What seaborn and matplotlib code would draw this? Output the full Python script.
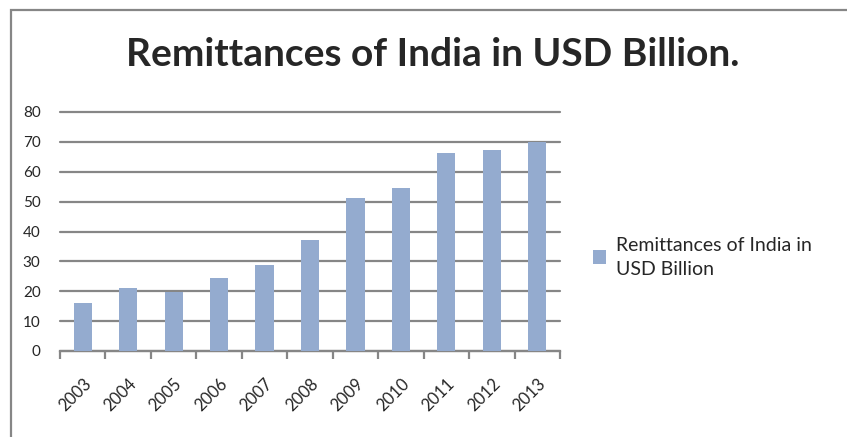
import numpy as np
import pandas as pd
import matplotlib.pyplot as plt
import seaborn as sns
from matplotlib.patches import Rectangle, Patch

# remittances of India, USD billion
years = ['2003', '2004', '2005', '2006', '2007', '2008',
         '2009', '2010', '2011', '2012', '2013']
remittances = [16.0, 21.1, 19.7, 24.4, 28.8, 37.1,
               51.2, 54.5, 66.2, 67.2, 69.8]
series_name = 'Remittances of India in USD Billion'

bar_color = '#94abcf'
grid_color = '#868686'

sns.set_style('white')
plt.rcParams['font.family'] = ['Lato', 'DejaVu Sans']

df = pd.DataFrame({'year': years, 'value': remittances})

fig = plt.figure(figsize=(8.47, 4.37), dpi=100)
ax = fig.add_axes([60 / 847, 1 - 351 / 437, 500 / 847, (351 - 112) / 437])

sns.barplot(data=df, x='year', y='value', color=bar_color, width=0.4,
            saturation=1, linewidth=0, ax=ax, zorder=3)

ax.set_ylim(0, 80)
ax.set_xlim(-0.5, len(years) - 0.5)
ax.set_yticks(np.arange(0, 81, 10))
ax.yaxis.grid(True, color=grid_color, linewidth=1.6)
for gl in ax.get_ygridlines():
    gl.set_clip_on(False)
ax.set_axisbelow(True)
ax.set_xlabel('')
ax.set_ylabel('')

for side in ['top', 'right', 'left']:
    ax.spines[side].set_visible(False)
ax.spines['bottom'].set_color(grid_color)
ax.spines['bottom'].set_linewidth(1.6)

# category boundary ticks like the spreadsheet chart
ax.set_xticks(np.arange(len(years)))
ax.set_xticklabels(years, rotation=45, ha='right', rotation_mode='anchor',
                   fontsize=12)
ax.set_xticks(np.arange(-0.5, len(years)), minor=True)
ax.tick_params(axis='x', which='major', length=0, pad=18)
ax.tick_params(axis='x', which='minor', length=6, width=1.6, color=grid_color,
               direction='out', bottom=True)
ax.tick_params(axis='y', length=0, labelsize=11, pad=14)

fig.text(433 / 847, 1 - 54 / 437, 'Remittances of India in USD Billion.',
         ha='center', va='center', fontsize=28, fontweight='bold')

handle = Patch(facecolor=bar_color, edgecolor='none')
leg = fig.legend([handle], ['Remittances of India in\nUSD Billion'],
                 loc='upper left', bbox_to_anchor=(575 / 847, 1 - 219 / 437),
                 frameon=False, fontsize=14, handlelength=0.7,
                 handleheight=0.7, handletextpad=0.5, alignment='left')
leg.get_texts()[0].set_linespacing(1.5)

# outer chart border (cut off at right and bottom)
fig.patches.append(Rectangle((11 / 847, -0.05), 1.0, 1 - 10 / 437 + 0.05,
                             transform=fig.transFigure, fill=False,
                             edgecolor=grid_color, linewidth=1.6))

fig.savefig('out.png', dpi=100)
